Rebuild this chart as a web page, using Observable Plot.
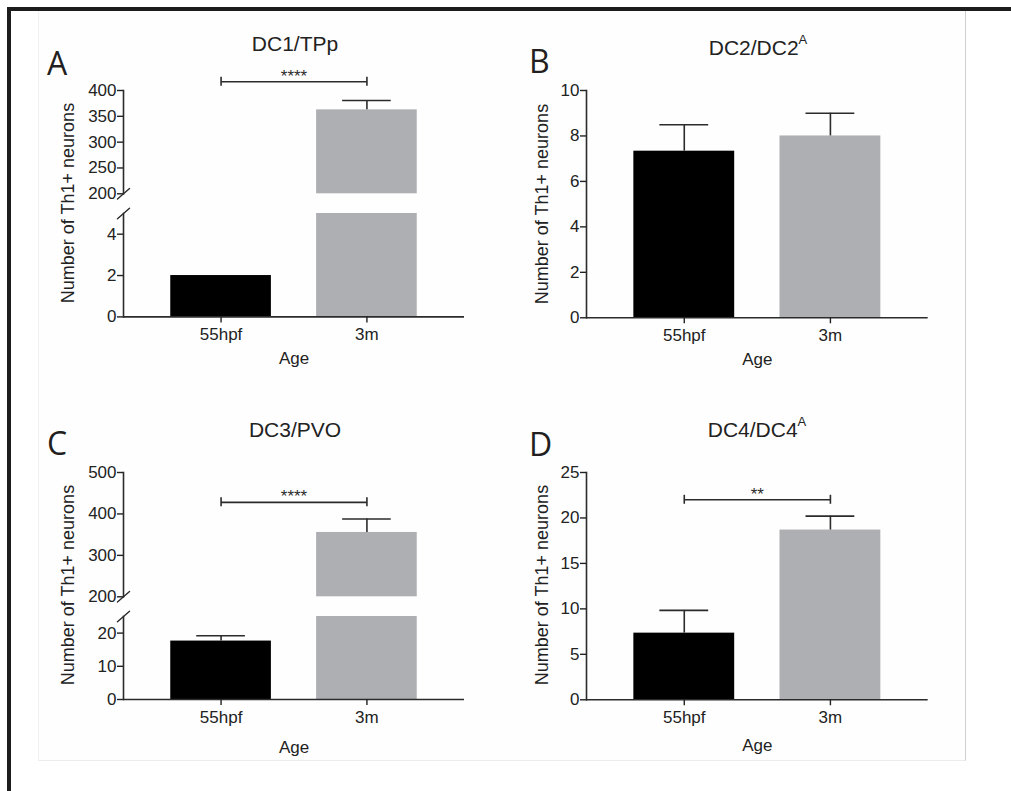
<!DOCTYPE html>
<html>
<head>
<meta charset="utf-8">
<script src="https://cdn.jsdelivr.net/npm/d3@7"></script>
<script src="https://cdn.jsdelivr.net/npm/@observablehq/plot@0.6"></script>
<style>
  html, body { margin: 0; padding: 0; background: #ffffff; }
  #fig { position: relative; width: 1011px; height: 791px; overflow: hidden; background: #ffffff;
         font-family: "Liberation Sans", Arial, Helvetica, sans-serif; color: #222; }
  .abs { position: absolute; white-space: nowrap; }
  .title { font-size: 21px; line-height: 21px; text-align: center; width: 300px; }
  .letter { font-family: "Open Sans", "Noto Sans", sans-serif; font-size: 32px; line-height: 32px; color: #231f20; }
  .ylab { font-size: 18px; line-height: 18px; width: 280px; text-align: center; transform: rotate(-90deg); }
  #fig svg text { font-family: "Liberation Sans", Arial, Helvetica, sans-serif; }
</style>
</head>
<body>
<div id="fig"></div>
<script>
// ---------------- data ----------------
const ages = ["55hpf", "3m"];
const barFill = ["#000000", "#aeafb3"];

const dc1Mean = [2, 362.5];
const dc1Sem  = [0, 18];
const dc2Mean = [7.33, 8.0];
const dc2Sem  = [1.16, 1.0];
const dc3Mean = [17.6, 355.3];
const dc3Sem  = [1.6, 32.4];
const dc4Mean = [7.33, 18.67];
const dc4Sem  = [2.5, 1.53];

const yTicksDC1 = [0, 2, 4, 200, 250, 300, 350, 400];
const yTicksDC2 = [0, 2, 4, 6, 8, 10];
const yTicksDC3 = [0, 10, 20, 200, 300, 400, 500];
const yTicksDC4 = [0, 5, 10, 15, 20, 25];

// y-axis segments (lower first), broken axes for DC1 and DC3
const segmentsDC1 = [[0, 5], [200, 400]];
const segmentsDC2 = [[0, 10]];
const segmentsDC3 = [[0, 25], [200, 500]];
const segmentsDC4 = [[0, 25]];

const panelLetters = ["A", "B", "C", "D"];
const panelTitles  = ["DC1/TPp", "DC2/DC2", "DC3/PVO", "DC4/DC4"];
const titleSups    = ["", "A", "", "A"];
const sigLabels    = ["****", "", "****", "**"];
const sigLevels    = [417, null, 428, 22];   // bracket height in data units

const yLabel = "Number of Th1+ neurons";
const xLabel = "Age";

// ---------------- build ----------------
const ink = "#2b2b2b";
const fig = document.getElementById("fig");

function box(style) { const d = document.createElement("div"); d.className = "abs"; Object.assign(d.style, style); fig.appendChild(d); return d; }
box({left: "38px", top: "11px", width: "926px", height: "749px", borderRight: "1px solid #cfcfcf", borderBottom: "1px solid #ececec", borderLeft: "1px solid #f1f1f1", background: "#fefefe"});
box({left: "7px", top: "7px", width: "1004px", height: "4px", background: "#1d1d1d"});
box({left: "7px", top: "7px", width: "4px", height: "784px", background: "#1d1d1d"});

const panels = [
  {mean: dc1Mean, sem: dc1Sem, ticks: yTicksDC1, segs: segmentsDC1},
  {mean: dc2Mean, sem: dc2Sem, ticks: yTicksDC2, segs: segmentsDC2},
  {mean: dc3Mean, sem: dc3Sem, ticks: yTicksDC3, segs: segmentsDC3},
  {mean: dc4Mean, sem: dc4Sem, ticks: yTicksDC4, segs: segmentsDC4}
].map((p, i) => ({...p, letter: panelLetters[i], title: panelTitles[i], sup: titleSups[i], sig: sigLabels[i], sigY: sigLevels[i]}));

const layout = [
  {ax0: 123, ax1: 464,   frames: [[213.3, 316.7], [90, 193.3]], labelOffset: 47, letter: [47, 75],  title: [295, 51],  ylab: [67.5, 203]},
  {ax0: 586, ax1: 927.7, frames: [[90, 317.3]],                 labelOffset: 47, letter: [529, 73], title: [758, 55],  ylab: [541.5, 203.5]},
  {ax0: 123, ax1: 464,   frames: [[616, 699], [471.7, 596]],    labelOffset: 53, letter: [47, 455], title: [295, 437], ylab: [67.5, 585]},
  {ax0: 586, ax1: 927.7, frames: [[471.7, 699]],                labelOffset: 51, letter: [529, 456], title: [757, 437], ylab: [541.5, 585]}
];

const slashShape = {draw(context, l) { context.moveTo(0, 0); context.lineTo(0, -l); }};

function buildSegment(p, L, si) {
  const [lo, hi] = p.segs[si];
  const [fTop, fBot] = L.frames[si];
  const isBottom = si === 0;
  const isTop = si === p.segs.length - 1;
  const broken = p.segs.length > 1;
  const mt = isTop ? 60 : 12, mb = isBottom ? 80 : 12, ml = 100, mr = 20;
  const W = ml + (L.ax1 - L.ax0) + mr;
  const H = mt + (fBot - fTop) + mb;
  const rows = ages.map((age, i) => ({age, mean: p.mean[i], sem: p.sem[i], fill: barFill[i]}));
  const err = rows.filter(d => d.sem > 0 && d.mean >= lo && d.mean <= hi);

  const marks = [
    Plot.barY(rows.filter(d => d.mean > lo), {x: "age", y1: () => lo, y2: d => Math.min(d.mean, hi), fill: "fill"}),
    Plot.ruleX(err, {x: "age", y1: "mean", y2: d => d.mean + d.sem, stroke: ink, strokeWidth: 1.6}),
    Plot.tickY(err, {x: "age", y: d => d.mean + d.sem, insetLeft: 26, insetRight: 26, stroke: ink, strokeWidth: 1.6}),
    Plot.frame({anchor: "left", stroke: ink, strokeWidth: 1.6}),
    Plot.axisY({ticks: p.ticks.filter(t => t >= lo && t <= hi), tickFormat: d => String(d), tickSize: 6, tickPadding: 1,
      label: null, fontSize: 17, strokeWidth: 1.4})
  ];
  if (isBottom) {
    marks.push(Plot.ruleY([lo], {stroke: ink, strokeWidth: 1.6}));
    marks.push(Plot.axisX({tickSize: 6, tickPadding: 5, fontSize: 17, strokeWidth: 1.4,
      label: xLabel, labelAnchor: "center", labelOffset: L.labelOffset, labelArrow: "none"}));
  }
  if (broken) {
    marks.push(Plot.vector([lo], {frameAnchor: isBottom ? "top-left" : "bottom-left", length: 16, rotate: 49,
      anchor: "middle", shape: slashShape, stroke: ink, strokeWidth: 1.4}));
  }
  if (isTop && p.sig) {
    marks.push(Plot.link([p.sigY], {x1: () => ages[0], x2: () => ages[1], y1: d => d, y2: d => d, stroke: ink, strokeWidth: 1.6}));
    marks.push(Plot.ruleX(ages, {x: d => d, y1: () => p.sigY, y2: () => p.sigY, insetTop: -4.5, insetBottom: -4.5, stroke: ink, strokeWidth: 1.6}));
    marks.push(Plot.text([p.sig], {y: () => p.sigY, text: d => d, lineAnchor: "bottom", fontSize: 17, fill: ink}));
  }

  const svg = Plot.plot({
    width: W, height: H,
    marginLeft: ml, marginRight: mr, marginTop: mt, marginBottom: mb,
    style: {background: "transparent", overflow: "visible", fontFamily: '"Liberation Sans", Arial, sans-serif', fontSize: "17px", color: "#222"},
    x: {type: "band", domain: ages, paddingInner: 0.31, paddingOuter: 0.324, align: 0.5, round: false, ...(isBottom ? {} : {axis: null})},
    y: {domain: [lo, hi]},
    color: {type: "identity"},
    marks
  });
  svg.style.position = "absolute";
  svg.style.left = (L.ax0 - ml) + "px";
  svg.style.top = (fTop - mt) + "px";
  svg.style.maxWidth = "none";
  fig.appendChild(svg);
}

panels.forEach((p, i) => {
  const L = layout[i];
  for (let s = 0; s < p.segs.length; s++) buildSegment(p, L, s);

  const lt = box({left: L.letter[0] + "px", top: (L.letter[1] - 0.888 * 32) + "px"});
  lt.classList.add("letter"); lt.textContent = p.letter;

  const t = box({left: (L.title[0] - 150) + "px", top: (L.title[1] - 0.8465 * 21) + "px"});
  t.classList.add("title");
  t.appendChild(document.createTextNode(p.title));
  if (p.sup) {
    const s = document.createElement("span");
    s.textContent = p.sup;
    Object.assign(s.style, {fontSize: "13px", position: "relative", top: "-11px"});
    t.appendChild(s);
  }

  const yl = box({left: (L.ylab[0] - 140) + "px", top: (L.ylab[1] - 9) + "px"});
  yl.classList.add("ylab"); yl.textContent = yLabel;
});
</script>
</body>
</html>
